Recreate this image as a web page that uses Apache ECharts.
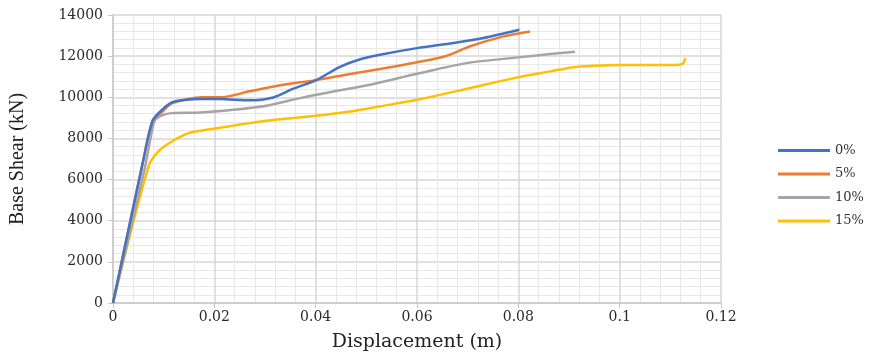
<!DOCTYPE html>
<html>
<head>
<meta charset="utf-8">
<script src="https://cdn.jsdelivr.net/npm/echarts@6/dist/echarts.min.js"></script>
<style>html,body{margin:0;padding:0;background:#fff}#c{width:880px;height:357px}</style>
</head>
<body>
<div id="c"></div>
<script>
const seriesNames = ['0%', '5%', '10%', '15%'];
const xTicks = [0, 0.02, 0.04, 0.06, 0.08, 0.1, 0.12];
const yTicks = [0, 2000, 4000, 6000, 8000, 10000, 12000, 14000];

const s0 = [[0,0],[0.006,6960],[0.0078,8850],[0.0095,9350],[0.0116,9750],[0.0145,9880],[0.0172,9920],[0.0211,9920],[0.027,9850],[0.0316,9990],[0.0356,10420],[0.040,10820],[0.0448,11480],[0.0488,11850],[0.0527,12070],[0.06,12390],[0.0672,12640],[0.0731,12880],[0.0802,13280]];
const s5 = [[0,0],[0.006,6960],[0.0078,8850],[0.0095,9250],[0.0116,9700],[0.0145,9900],[0.0175,10000],[0.0211,10000],[0.027,10290],[0.0336,10610],[0.040,10830],[0.0468,11130],[0.0527,11370],[0.06,11700],[0.0659,12020],[0.0705,12480],[0.0771,12960],[0.0823,13200]];
const s10 = [[0,0],[0.0062,6470],[0.0078,8500],[0.0085,8950],[0.0116,9230],[0.0172,9260],[0.0237,9390],[0.0303,9590],[0.0369,9960],[0.0435,10280],[0.0507,10610],[0.06,11140],[0.0698,11660],[0.08,11940],[0.0863,12100],[0.0912,12210]];
const s15 = [[0,0],[0.007,6630],[0.0089,7360],[0.0116,7850],[0.0149,8260],[0.0185,8420],[0.0237,8620],[0.0303,8860],[0.040,9100],[0.0468,9310],[0.0527,9560],[0.06,9880],[0.0705,10450],[0.08,10980],[0.0863,11260],[0.0905,11450],[0.0948,11530],[0.10,11570],[0.1106,11570],[0.1123,11610],[0.113,11900]];

const seriesData = [s0, s5, s10, s15];
const colors = ['#4472C4', '#ED7D31', '#A5A5A5', '#FFC000'];

const chart = echarts.init(document.getElementById('c'), null, {renderer: 'canvas'});
const serif = 'DejaVu Serif';
chart.setOption({
  animation: false,
  backgroundColor: '#fff',
  grid: {left: 113, right: 159, top: 15, bottom: 54, containLabel: false},
  legend: {
    orient: 'vertical',
    left: 778,
    top: 144,
    padding: 0,
    itemGap: 10.5,
    itemWidth: 52,
    itemHeight: 3,
    icon: 'rect',
    data: seriesNames,
    textStyle: {fontFamily: serif, fontSize: 13, color: '#333'}
  },
  xAxis: {
    type: 'value',
    min: xTicks[0], max: xTicks[xTicks.length - 1], interval: 0.02,
    name: 'Displacement (m)',
    nameLocation: 'middle',
    nameGap: 30,
    nameTextStyle: {fontFamily: serif, fontSize: 19, color: '#222'},
    axisLine: {show: true, onZero: false, lineStyle: {color: '#c8c8c8', width: 1.5}},
    axisTick: {show: true, length: 5, lineStyle: {color: '#c8c8c8'}},
    axisLabel: {fontFamily: serif, fontSize: 14, color: '#2a2a2a', margin: 7,
      formatter: v => String(+v.toFixed(2))},
    splitLine: {show: true, lineStyle: {color: '#d6d6d6', width: 1.5}},
    minorTick: {show: false, splitNumber: 5},
    minorSplitLine: {show: true, lineStyle: {color: '#e8e8e8', width: 1}}
  },
  yAxis: {
    type: 'value',
    min: yTicks[0], max: yTicks[yTicks.length - 1], interval: 2000,
    name: 'Base Shear (kN)',
    nameLocation: 'middle',
    nameGap: 85,
    nameRotate: 90,
    nameTextStyle: {fontFamily: 'Liberation Serif', fontSize: 20, color: '#222'},
    axisLine: {show: true, lineStyle: {color: '#c8c8c8', width: 1.5}},
    axisTick: {show: true, length: 5, lineStyle: {color: '#c8c8c8'}},
    axisLabel: {fontFamily: serif, fontSize: 14, color: '#2a2a2a', margin: 10,
      formatter: v => String(v)},
    splitLine: {show: true, lineStyle: {color: '#d6d6d6', width: 1.5}},
    minorTick: {show: false, splitNumber: 5},
    minorSplitLine: {show: true, lineStyle: {color: '#e8e8e8', width: 1}}
  },
  series: seriesNames.map((n, i) => ({
    name: n,
    type: 'line',
    data: seriesData[i],
    smooth: 0.3,
    showSymbol: false,
    symbol: 'none',
    lineStyle: {color: colors[i], width: 2.5},
    itemStyle: {color: colors[i]},
    z: 10 - i
  }))
});
</script>
</body>
</html>
